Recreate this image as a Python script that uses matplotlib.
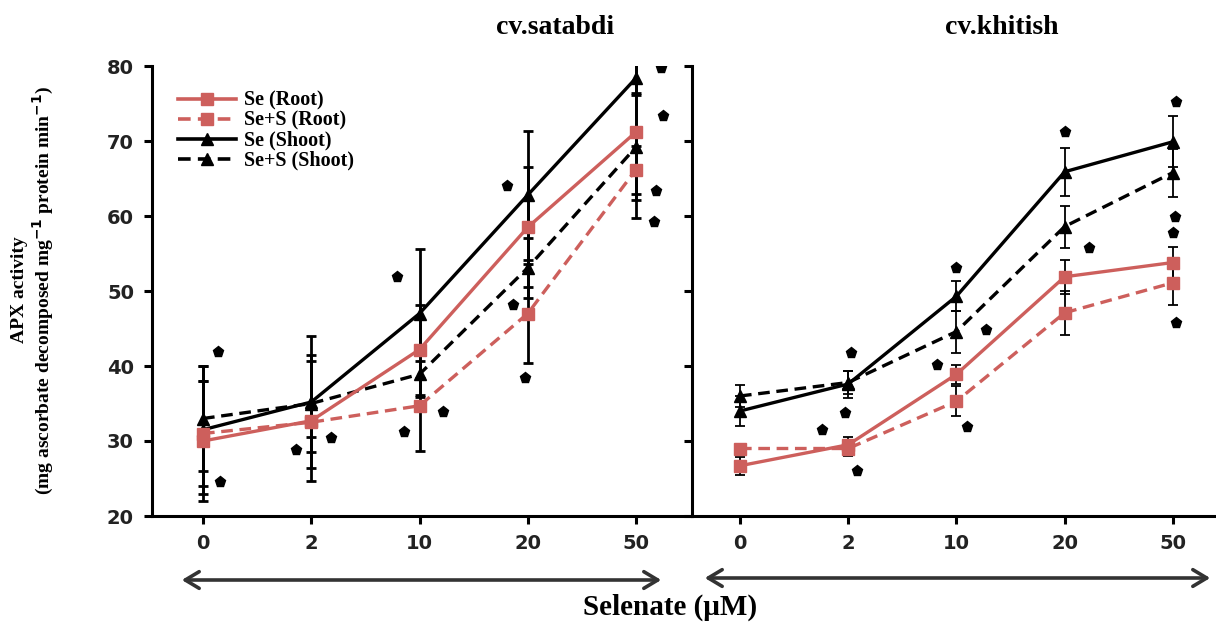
import matplotlib
matplotlib.use("Agg")
import matplotlib.pyplot as plt
from matplotlib.lines import Line2D

# selenate doses (categorical x axis)
doses = ["0", "2", "10", "20", "50"]
xpos = [0, 1, 2, 3, 4]

# cv. satabdi
sat_se_root = [30.0, 32.7, 42.2, 58.5, 71.2]
sat_ses_root = [31.0, 32.5, 34.7, 47.0, 66.2]
sat_se_shoot = [31.5, 35.2, 47.0, 62.8, 78.4]
sat_ses_shoot = [33.0, 35.0, 38.9, 53.1, 69.2]
sat_se_root_err = [8.0, 8.0, 6.0, 8.0, 11.4]
sat_ses_root_err = [7.0, 2.0, 6.0, 6.6, 3.2]
sat_se_shoot_err = [8.5, 8.8, 8.6, 8.6, 2.0]
sat_ses_shoot_err = [7.0, 6.5, 3.0, 4.0, 7.0]

# cv. khitish
khi_se_root = [26.7, 29.5, 38.9, 51.9, 53.8]
khi_ses_root = [29.0, 29.0, 35.3, 47.1, 51.1]
khi_se_shoot = [34.0, 37.6, 49.3, 65.9, 69.9]
khi_ses_shoot = [36.0, 37.8, 44.6, 58.6, 65.8]
khi_se_root_err = [1.2, 1.0, 1.3, 2.3, 2.1]
khi_ses_root_err = [0.5, 1.0, 2.0, 2.9, 2.9]
khi_se_shoot_err = [2.0, 1.8, 2.0, 3.2, 3.4]
khi_ses_shoot_err = [1.5, 1.5, 2.8, 2.8, 3.2]

# significance stars (x in dose index units, y in activity units)
sat_star_x = [0.14, 0.16, 0.86, 1.18, 1.86, 2.22, 2.97, 2.86, 1.79, 2.81, 4.23, 4.25, 4.18, 4.17]
sat_star_y = [41.9, 24.5, 28.8, 30.4, 31.2, 33.9, 38.4, 48.1, 51.9, 64.0, 79.7, 73.3, 63.3, 59.2]
khi_star_x = [1.03, 0.97, 0.76, 1.08, 1.82, 2.27, 2.10, 4.03, 2.00, 3.00, 3.22, 4.03, 4.02, 4.00]
khi_star_y = [41.7, 33.7, 31.5, 26.0, 40.1, 44.8, 31.9, 45.7, 53.1, 71.2, 55.7, 75.2, 59.9, 57.7]

RED = "#cd5f5c"
DASH = (0, (3.5, 2))
serif = ["Liberation Serif", "DejaVu Serif"]

fig = plt.figure(figsize=(12.16, 6.23), dpi=100)
W, H = 1216, 623
bot = (H - 516) / H
hgt = (516 - 66) / H
ax1 = fig.add_axes([152 / W, bot, (692 - 152) / W, hgt])
ax2 = fig.add_axes([692 / W, bot, (1214 - 692) / W, hgt])


def draw_panel(ax, se_r, ses_r, se_s, ses_s, e1, e2, e3, e4, sx, sy, elw):
    kw = dict(capsize=3.5, elinewidth=elw, capthick=elw, lw=2.4, ecolor="black")
    ax.errorbar(xpos, se_s, yerr=e3, color="black", marker="^", ms=9, ls="-", **kw)
    ax.errorbar(xpos, ses_s, yerr=e4, color="black", marker="^", ms=9, ls=DASH, **kw)
    ax.errorbar(xpos, se_r, yerr=e1, color=RED, marker="s", ms=8, ls="-", **kw)
    ax.errorbar(xpos, ses_r, yerr=e2, color=RED, marker="s", ms=8, ls=DASH, **kw)
    ax.plot(sx, sy, ls="none", marker="p", ms=8, color="black")
    ax.set_ylim(20, 80)
    ax.set_yticks([20, 30, 40, 50, 60, 70, 80])
    ax.set_xticks(xpos)
    ax.set_xticklabels(doses)
    ax.spines["top"].set_visible(False)
    ax.spines["right"].set_visible(False)
    for s in ["left", "bottom"]:
        ax.spines[s].set_linewidth(2.2)
    ax.tick_params(direction="out", length=6, width=2.2, labelsize=14, pad=7)
    for lab in ax.get_xticklabels() + ax.get_yticklabels():
        lab.set_fontweight("bold")
        lab.set_color("#222222")


draw_panel(ax1, sat_se_root, sat_ses_root, sat_se_shoot, sat_ses_shoot,
           sat_se_root_err, sat_ses_root_err, sat_se_shoot_err, sat_ses_shoot_err,
           sat_star_x, sat_star_y, 2.0)
draw_panel(ax2, khi_se_root, khi_ses_root, khi_se_shoot, khi_ses_shoot,
           khi_se_root_err, khi_ses_root_err, khi_se_shoot_err, khi_ses_shoot_err,
           khi_star_x, khi_star_y, 1.3)
ax1.set_xlim(-0.471, 4.517)
ax2.set_xlim(-0.443, 4.379)
ax2.tick_params(axis="y", labelleft=False)

# legend (line + marker only, no error bars)
handles = [
    Line2D([], [], color=RED, lw=2.6, marker="s", ms=9, ls="-"),
    Line2D([], [], color=RED, lw=2.6, marker="s", ms=9, ls=DASH),
    Line2D([], [], color="black", lw=2.6, marker="^", ms=9, ls="-"),
    Line2D([], [], color="black", lw=2.6, marker="^", ms=9, ls=DASH),
]
labels = ["Se (Root)", "Se+S (Root)", "Se (Shoot)", "Se+S (Shoot)"]
ax1.legend(handles, labels, loc="upper left", bbox_to_anchor=(26 / 540, 0.945),
           frameon=False, handlelength=2.9, labelspacing=0.0, handletextpad=0.4,
           borderaxespad=0, borderpad=0,
           prop={"family": serif, "weight": "bold", "size": 14.5})

# titles
fig.text(555 / W, 1 - 27 / H, "cv.satabdi", ha="center", va="center",
         family=serif, weight="bold", fontsize=20)
fig.text(1002 / W, 1 - 27 / H, "cv.khitish", ha="center", va="center",
         family=serif, weight="bold", fontsize=20)

# y label
fig.text(20 / W, 1 - 290 / H, "APX activity", rotation=90, ha="center", va="center",
         family=serif, weight="bold", fontsize=14)
fig.text(43 / W, 1 - 290 / H,
         "(mg ascorbate decomposed mg$^{\\mathbf{-1}}$ protein min$^{\\mathbf{-1}}$)",
         rotation=90, ha="center", va="center", family=serif, weight="bold", fontsize=14)

# double-headed arrows under the x axes
arrow = dict(arrowstyle="<->,head_length=1.0,head_width=0.6", lw=2.6, color="#333333")
ax1.annotate("", xy=(179 / W, 1 - 580 / H), xytext=(664 / W, 1 - 580 / H),
             xycoords="figure fraction", textcoords="figure fraction", arrowprops=arrow)
ax1.annotate("", xy=(702 / W, 1 - 578 / H), xytext=(1213 / W, 1 - 578 / H),
             xycoords="figure fraction", textcoords="figure fraction", arrowprops=arrow)

fig.text(670 / W, 1 - 607 / H, "Selenate (\u03bcM)", ha="center", va="center",
         family=serif, weight="bold", fontsize=21)

fig.savefig("out.png", dpi=100)
